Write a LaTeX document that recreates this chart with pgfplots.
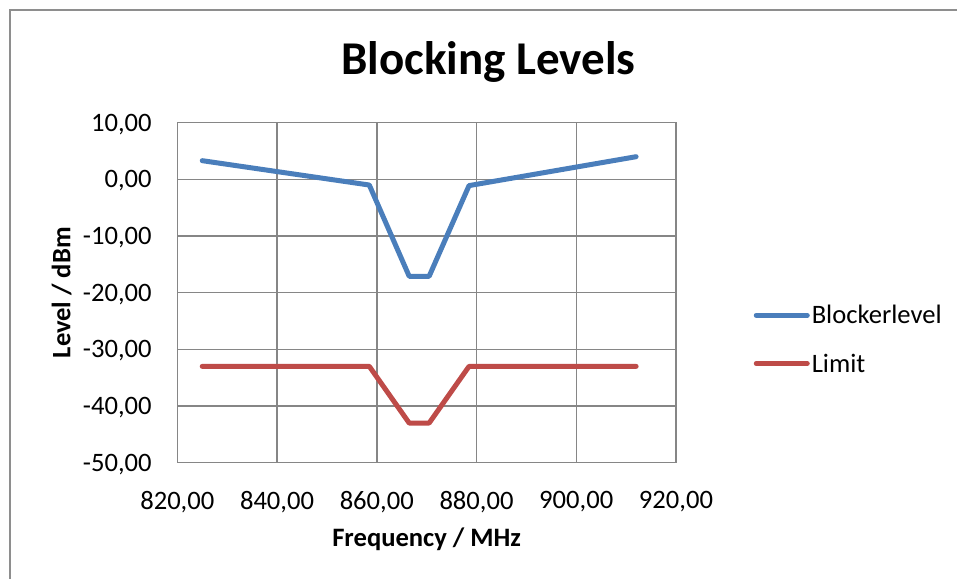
\documentclass[border=0pt]{standalone}
\usepackage{pgfplots}
\pgfplotsset{compat=1.18}
\usepackage{fontspec}
\setmainfont{Carlito}
\definecolor{blockerblue}{HTML}{4A7EBB}
\definecolor{limitred}{HTML}{BE4B48}
\definecolor{gridgray}{HTML}{868686}
\definecolor{framegray}{HTML}{8E8E8E}
\newcommand\chartfont{\fontsize{26.6}{31}\selectfont}
\begin{document}
\begin{tikzpicture}
\useasboundingbox (0pt,0pt) rectangle (957pt,-578pt);
% chart area border (left and top edges)
\draw[framegray, line width=2pt] (9.5pt,-580pt) -- (9.5pt,-10.5pt) -- (960pt,-10.5pt);
\begin{axis}[
  at={(177.3pt,-462.7pt)}, anchor=south west,
  scale only axis, width=498.7pt, height=340pt,
  xmin=820, xmax=920, ymin=-50, ymax=10,
  xtick={820,840,860,880,900,920},
  ytick={-50,-40,-30,-20,-10,0,10},
  grid=major,
  major grid style={gridgray, line width=1.5pt},
  axis line style={gridgray, line width=1.5pt},
  major tick length=0pt,
  tick label style={font=\chartfont, inner sep=0pt},
  xticklabel style={anchor=north, yshift=-28.5pt},
  yticklabel style={anchor=base east, xshift=-25.5pt, yshift=-8.4pt},
  /pgf/number format/.cd, fixed, fixed zerofill, precision=2, use comma,
    assume math mode=true,
  /pgfplots/.cd,
  title={Blocking Levels},
  title style={font=\fontsize{47}{52}\selectfont\bfseries,
    at={(axis description cs:0.6236,1.124)}, anchor=base, inner sep=0pt},
  xlabel={Frequency / MHz},
  xlabel style={font=\chartfont\bfseries,
    at={(axis description cs:0.5,-0.245)}, anchor=base, inner sep=0pt},
  ylabel={Level / dBm},
  ylabel style={font=\chartfont\bfseries,
    at={(axis description cs:-0.2142,0.5)}, anchor=base, inner sep=0pt},
  legend style={draw=none, fill=none,
    at={(axis description cs:1.1555,0.4594)}, anchor=north west,
    inner xsep=0pt, inner ysep=0pt,
    nodes={inner sep=0pt, text height=17pt, text depth=0pt, font=\chartfont},
    column sep=2pt, row sep=31.3pt, cells={anchor=west}},
  legend image code/.code={\draw[#1, line width=5pt, line cap=round] (0pt,0pt) -- (51pt,0pt);},
]
\addplot[blockerblue, line width=5pt, line join=round, line cap=round, no marks]
  coordinates {(825,3.3) (858.5,-1.0) (866.5,-17.1) (870.5,-17.1) (878.5,-1.1) (912,4.0)};
\addlegendentry{Blockerlevel}
\addplot[limitred, line width=5pt, line join=round, line cap=round, no marks]
  coordinates {(825,-33) (858.5,-33) (866.5,-43) (870.5,-43) (878.5,-33) (912,-33)};
\addlegendentry{Limit}
\end{axis}
\end{tikzpicture}
\end{document}
